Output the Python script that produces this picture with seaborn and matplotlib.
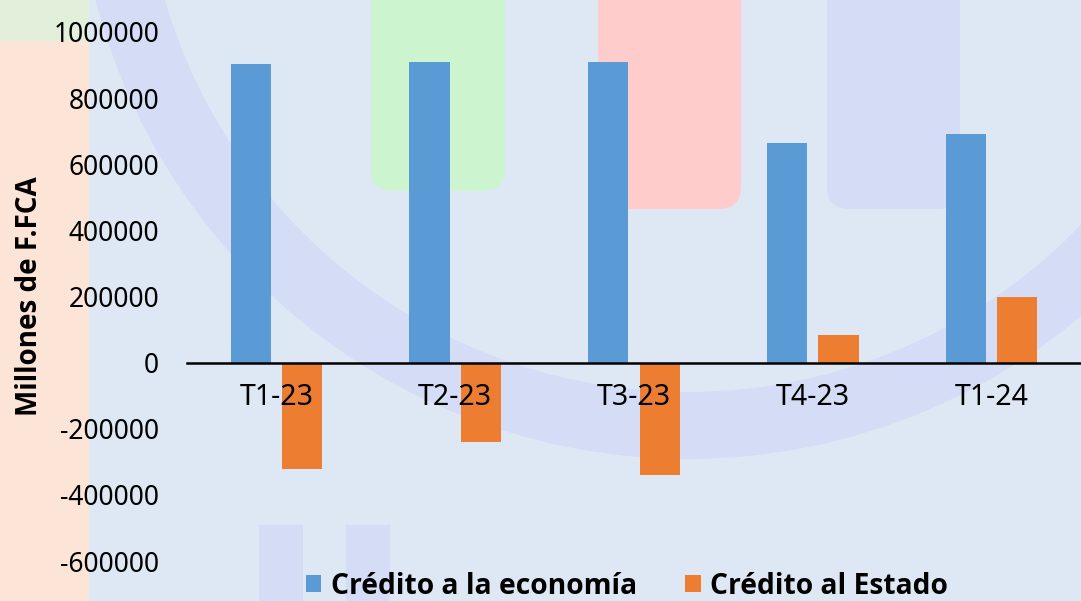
import matplotlib
matplotlib.use("Agg")
import matplotlib.pyplot as plt
import matplotlib.patches as mpatches
import seaborn as sns
import pandas as pd

# ---- data ----
trimestres = ["T1-23", "T2-23", "T3-23", "T4-23", "T1-24"]
credito_economia = [902000, 909000, 910000, 663000, 690000]
credito_estado = [-321000, -241000, -340000, 85000, 199000]
serie_labels = ["Crédito a la economía", "Crédito al Estado"]
yticks = [-600000, -400000, -200000, 0, 200000, 400000, 600000, 800000, 1000000]

df = pd.DataFrame({
    "Trimestre": trimestres * 2,
    "Serie": [serie_labels[0]] * len(trimestres) + [serie_labels[1]] * len(trimestres),
    "Valor": credito_economia + credito_estado,
})

sns.set_theme(style="white")
plt.rcParams["font.family"] = ["Noto Sans", "DejaVu Sans"]
plt.rcParams["text.color"] = "black"
BOLD_FAMILY = ["Open Sans", "DejaVu Sans"]

W, H = 1081, 601
fig = plt.figure(figsize=(W / 100, H / 100), dpi=100)
fig.patch.set_facecolor("#DEE8F5")

# ---- decorative background (watermark) ----
bg = fig.add_axes([0, 0, 1, 1], zorder=-5)
bg.set_xlim(0, W)
bg.set_ylim(H, 0)
bg.axis("off")
bg.add_patch(mpatches.Rectangle((0, 0), 89, H, color="#FCE4D6", lw=0))
bg.add_patch(mpatches.Rectangle((0, 0), 89, 41, color="#E2EFDA", lw=0))
bg.add_patch(mpatches.Wedge((688, -153), 612, 0, 360, width=67, color="#D5DDF6", lw=0))
for x0, x1, y1, col in [(371, 505, 191, "#CCF5CF"), (598, 741, 209, "#FFCCCC"), (827, 960, 209, "#D5DDF6")]:
    bg.add_patch(mpatches.FancyBboxPatch((x0, -40), x1 - x0, y1 + 40,
                                         boxstyle="round,pad=0,rounding_size=22",
                                         color=col, lw=0))
for x0, x1 in [(259, 303), (346, 390)]:
    bg.add_patch(mpatches.Rectangle((x0, 525), x1 - x0, 100, color="#D5DDF6", lw=0))

# ---- main axes ----
left, right = 187 / W, 1.0
bottom, top = 1 - 561 / H, 1 - 32 / H
ax = fig.add_axes([left, bottom, right - left, top - bottom])
ax.set_facecolor("none")

sns.barplot(data=df, x="Trimestre", y="Valor", hue="Serie",
            palette=["#5B9BD5", "#ED7D31"], width=0.576, gap=0.22,
            saturation=1, ax=ax, linewidth=0, edgecolor="none")
ax.set_xlim(-0.5, 4.5)
ax.set_ylim(-600000, 1000000)
ax.set_yticks(yticks)
ax.set_yticklabels([str(v) for v in yticks])

for s in ["top", "right", "left"]:
    ax.spines[s].set_visible(False)
ax.spines["bottom"].set_position(("data", 0))
ax.spines["bottom"].set_color("black")
ax.spines["bottom"].set_linewidth(1.8)
ax.spines["bottom"].set_zorder(3)
ax.set_axisbelow(False)
ax.xaxis.set_zorder(5)

ax.tick_params(axis="y", length=0, pad=20, labelsize=19, labelcolor="black")
ax.tick_params(axis="x", length=0, pad=15, labelsize=20.5, labelcolor="black")
ax.set_xlabel("")
ax.set_ylabel("")

fig.text(30 / W, 1 - 296 / H, "Millones de F.FCA", rotation=90, ha="center",
         va="center", fontsize=20, fontweight="bold", family=BOLD_FAMILY, color="black")

handles, labels = ax.get_legend_handles_labels()
ax.legend_.remove()
fig.legend(handles, labels, loc="center", bbox_to_anchor=(627 / W, 1 - 586 / H),
           ncol=2, frameon=False, prop={"weight": "bold", "size": 20.3, "family": BOLD_FAMILY},
           labelcolor="black",
           handlelength=0.55, handleheight=0.55, handletextpad=0.35, columnspacing=1.7)

fig.savefig("out.png", dpi=100)
